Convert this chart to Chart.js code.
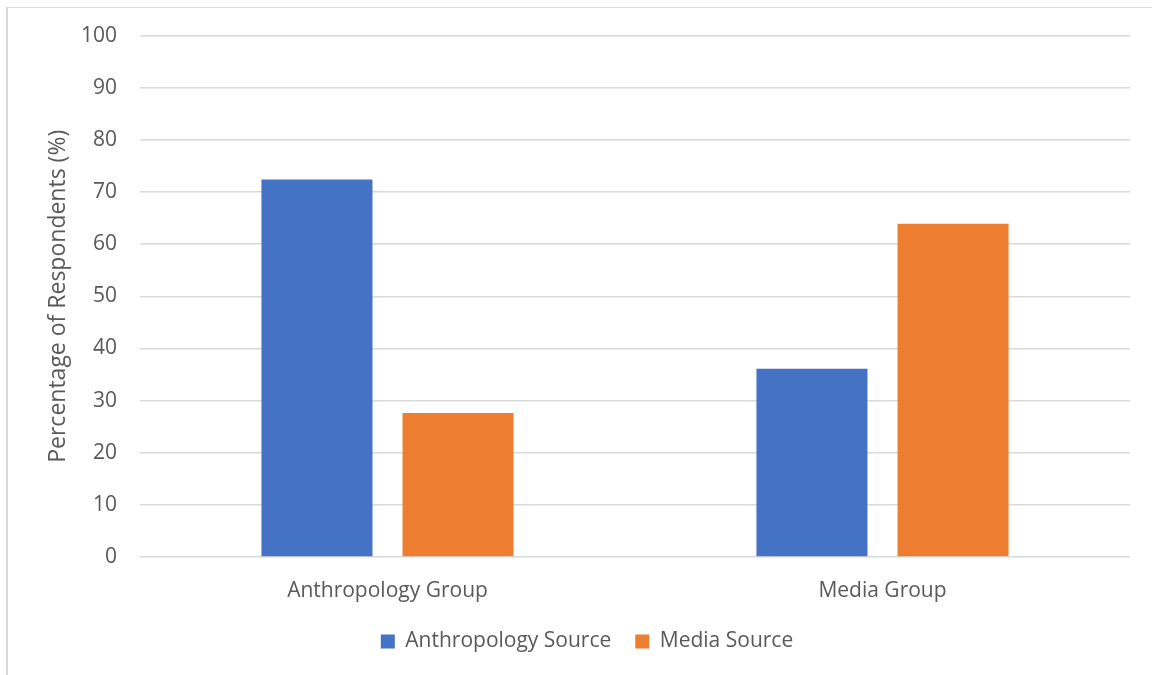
<!DOCTYPE html>
<html>
<head>
<meta charset="utf-8">
<script src="https://cdn.jsdelivr.net/npm/chart.js@4.4.0/dist/chart.umd.min.js"></script>
<style>
    body { margin: 0; background: #fff; }
    #frame {
        position: absolute; left: 6px; top: 7px; width: 1200px; height: 720px;
        border-left: 2px solid #d9d9d9; border-top: 1px solid #d9d9d9;
    }
    #wrap { position: absolute; left: 0; top: 0; width: 1152px; height: 675px; }
</style>
</head>
<body>
<div id="frame"></div>
<div id="wrap"><canvas id="my-chart"></canvas></div>
<script>
// values
const groups = ['Anthropology Group', 'Media Group'];
const anthropologySource = [72.4, 36.1];
const mediaSource = [27.6, 63.9];
const yTicks = [0, 10, 20, 30, 40, 50, 60, 70, 80, 90, 100];

const textColor = '#595959';
const font = { family: 'Open Sans', size: 21 };

const ctx = document.getElementById('my-chart').getContext('2d');

const chart = new Chart(ctx, {
    type: 'bar',
    data: {
        labels: groups,
        datasets: [{
            label: 'Anthropology Source',
            backgroundColor: '#4472C4',
            data: anthropologySource
        }, {
            label: 'Media Source',
            backgroundColor: '#ED7D31',
            data: mediaSource
        }]
    },
    options: {
        responsive: true,
        maintainAspectRatio: false,
        animation: false,
        categoryPercentage: 0.57,
        barPercentage: 0.787,
        // left padding keeps the legend centred where the original has it
        layout: { padding: { top: 23, right: 22, bottom: 13, left: 44 } },
        plugins: {
            tooltip: { enabled: false },
            legend: {
                position: 'bottom',
                labels: {
                    color: textColor,
                    font: font,
                    boxWidth: 14,
                    boxHeight: 14,
                    padding: 24
                }
            }
        },
        scales: {
            x: {
                afterFit: scale => { scale.height = 50; },
                grid: { display: false },
                border: { display: false },
                ticks: { color: textColor, font: font, padding: 13 }
            },
            y: {
                min: 0,
                max: 100,
                afterFit: scale => { scale.width = 96; },
                afterBuildTicks: scale => { scale.ticks = yTicks.map(v => ({ value: v })); },
                grid: { color: '#d9d9d9', lineWidth: 1.5, drawTicks: false },
                border: { display: false },
                ticks: { color: textColor, font: font, padding: 23 },
                title: {
                    display: true,
                    text: 'Percentage of Respondents (%)',
                    color: textColor,
                    font: { family: 'Open Sans', size: 23 },
                    padding: { top: 1 }
                }
            }
        }
    }
});
</script>
</body>
</html>
